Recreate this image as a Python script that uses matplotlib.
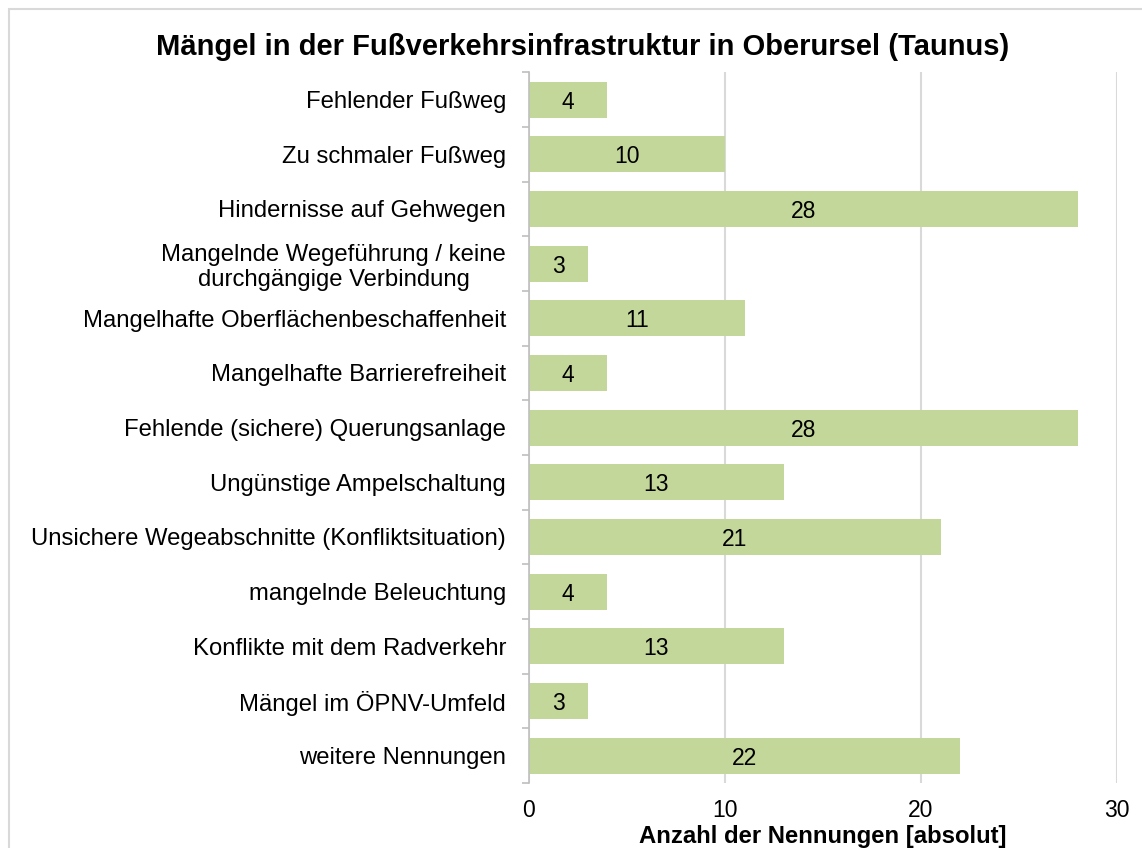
import matplotlib
matplotlib.use("Agg")
import matplotlib.pyplot as plt
from matplotlib.patches import Rectangle

plt.rcParams["font.family"] = ["Liberation Sans", "DejaVu Sans"]

categories = [
    "Fehlender Fußweg",
    "Zu schmaler Fußweg",
    "Hindernisse auf Gehwegen",
    "Mangelnde Wegeführung / keine\ndurchgängige Verbindung",
    "Mangelhafte Oberflächenbeschaffenheit",
    "Mangelhafte Barrierefreiheit",
    "Fehlende (sichere) Querungsanlage",
    "Ungünstige Ampelschaltung",
    "Unsichere Wegeabschnitte (Konfliktsituation)",
    "mangelnde Beleuchtung",
    "Konflikte mit dem Radverkehr",
    "Mängel im ÖPNV-Umfeld",
    "weitere Nennungen",
]
counts = [4, 10, 28, 3, 11, 4, 28, 13, 21, 4, 13, 3, 22]
x_ticks = [0, 10, 20, 30]

bar_color = "#c4d79b"
grid_color = "#d9d9d9"
fs = 16.5

fig = plt.figure(figsize=(11.42, 8.48), dpi=100)
ax = fig.add_axes([0.4632, 0.0767, 0.515, 0.838])

pos = list(range(len(categories)))
ax.barh(pos, counts, height=0.66, color=bar_color, zorder=2)
for y, v in zip(pos, counts):
    ax.text(v / 2, y, str(v), ha="center", va="center_baseline", fontsize=fs,
            color="black", zorder=3)

ax.set_ylim(len(categories) - 0.5, -0.5)
ax.set_xlim(0, 30)
ax.set_xticks(x_ticks)
ax.tick_params(axis="x", length=0, labelsize=fs, pad=11.5)

# category labels sit between the separator ticks
ax.set_yticks(pos)
ax.set_yticklabels(categories, fontsize=17.2, linespacing=1.15)
ax.tick_params(axis="y", which="major", length=0, pad=16.5)
ax.set_yticks([p - 0.5 for p in pos] + [len(pos) - 0.5], minor=True)
ax.tick_params(axis="y", which="minor", length=5, color="#bfbfbf", width=1.2)
for lab in ax.get_yticklabels():
    lab.set_horizontalalignment("right")
    lab.set_multialignment("center")

ax.grid(axis="x", color=grid_color, lw=1.5, zorder=0)
for s in ["top", "right", "bottom"]:
    ax.spines[s].set_visible(False)
ax.spines["left"].set_color("#bfbfbf")
ax.spines["left"].set_linewidth(1.2)

ax.set_xlabel("Anzahl der Nennungen [absolut]", fontsize=17.2,
              fontweight="bold", labelpad=2)
fig.text(0.510, 0.944, "Mängel in der Fußverkehrsinfrastruktur in Oberursel (Taunus)",
         ha="center", va="center", fontsize=21, fontweight="bold")

# outer chart frame, running off the right and bottom edges
fig.patches.append(Rectangle((9 / 1142, -0.05), 1.2, 0.05 + 1 - 9 / 848,
                             transform=fig.transFigure, fill=False,
                             edgecolor="#d9d9d9", lw=1.5))

fig.savefig("out.png", dpi=100)
